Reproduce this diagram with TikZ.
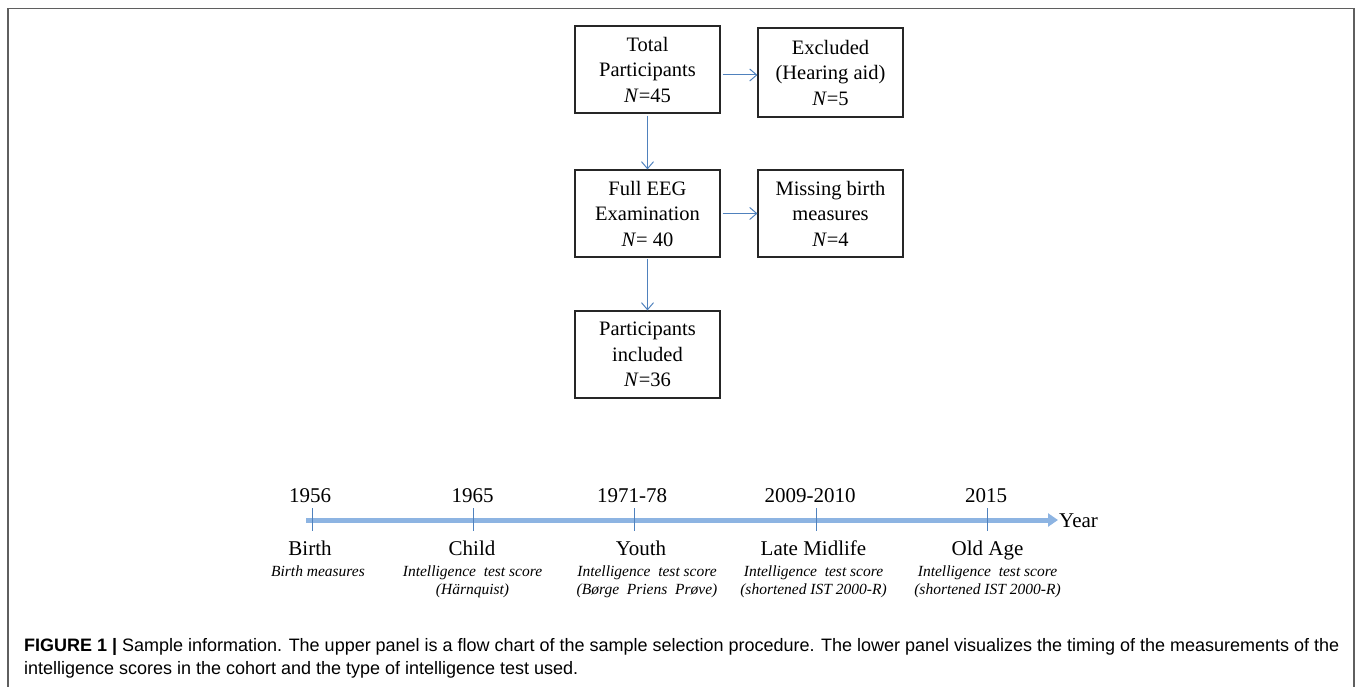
\documentclass[tikz,border=0pt]{standalone}
\usepackage{fontspec}
\setmainfont{Liberation Serif}
\newfontfamily\capfont{Liberation Sans}
\usetikzlibrary{arrows.meta,calc}
\definecolor{flowblue}{RGB}{79,129,189}
\definecolor{barblue}{RGB}{141,180,226}
\definecolor{framegray}{RGB}{95,95,95}
\newsavebox\capA
\newsavebox\capB
\begin{document}
\sbox\capA{\capfont\fontsize{18}{22}\selectfont\textbf{FIGURE 1 |} Sample information. The upper panel is a flow chart of the sample selection procedure. The lower panel visualizes the timing of the measurements of the}%
\sbox\capB{\capfont\fontsize{18}{22}\selectfont intelligence scores in the cohort and the type of intelligence test used.}%
\pgfmathsetmacro\capsc{1315/\wd\capA}%
\begin{tikzpicture}[x=1pt,y=-1pt,
  fbox/.style={draw=black!85, line width=1.1pt, minimum width=145pt, minimum height=87pt,
    align=center, inner sep=0pt, font=\fontsize{20.5}{25.5}\selectfont},
  flow/.style={draw=flowblue, line width=1pt, -{Straight Barb[length=7pt,width=12pt]}},
  tickmark/.style={draw=flowblue, line width=1pt},
  yearlbl/.style={font=\fontsize{21}{25}\selectfont, anchor=base, inner sep=0pt},
  stagelbl/.style={font=\fontsize{21}{25}\selectfont, anchor=base, inner sep=0pt},
  detaillbl/.style={font=\fontsize{15.5}{18.5}\selectfont\itshape, anchor=base, inner sep=0pt},
  caplbl/.style={anchor=base west, inner sep=0pt, text=black!85},
]
\useasboundingbox (0,0) rectangle (1358,687);
\draw[framegray, line width=1.5pt] (8,687) -- (8,8.5) -- (1354,8.5) -- (1354,687);

% flow chart
\node[fbox] (b1) at (647.5,69.5) {Total\\Participants\\\textit{N}=45};
\node[fbox, minimum height=89pt] (b2) at (830.5,72.5) {Excluded\\(Hearing aid)\\\textit{N}=5};
\node[fbox] (b3) at (647.5,213.5) {Full EEG\\Examination\\\textit{N}= 40};
\node[fbox] (b4) at (830.5,213.5) {Missing birth\\measures\\\textit{N}=4};
\node[fbox] (b5) at (647.5,354.5) {Participants\\included\\\textit{N}=36};

\draw[flow] ([xshift=2pt,yshift=-5.5pt]b1.east) -- ([yshift=-5.5pt]b1.east -| b2.west);
\draw[flow] ([xshift=2pt]b3.east) -- (b4.west);
\draw[flow] ([yshift=-2pt]b1.south) -- (b3.north);
\draw[flow] ([yshift=-1pt]b3.south) -- (b5.north);

% timeline
\coordinate (t0) at (306,520);
\coordinate (t1) at (1058,520);
\draw[barblue, line width=5pt, -{Triangle[length=10pt,width=13pt]}] (t0) -- (t1);
\node[anchor=west, font=\fontsize{21}{25}\selectfont, inner sep=0pt] (yr) at (1059,521) {Year};

\foreach \n/\x in {a/312,b/473,c/634,d/816,e/987}{
  \coordinate (tt\n) at (\x,508);
  \coordinate (tb\n) at (\x,531);
  \draw[tickmark] (tt\n) -- (tb\n);
}

\node[yearlbl] (y1) at (310,502) {1956};
\node[yearlbl] (y2) at (472.5,502) {1965};
\node[yearlbl] (y3) at (632,502) {1971-78};
\node[yearlbl] (y4) at (810,502) {2009-2010};
\node[yearlbl] (y5) at (986,502) {2015};

\node[stagelbl] (s1) at (310,555) {Birth};
\node[stagelbl] (s2) at (472,555) {Child};
\node[stagelbl] (s3) at (641,555) {Youth};
\node[stagelbl] (s4) at (813.5,555) {Late Midlife};
\node[stagelbl] (s5) at (987.5,555) {Old Age};

\node[detaillbl] (d1) at (318,576) {Birth measures};
\node[detaillbl] (d2a) at (472.5,576) {Intelligence\ \ test score};
\node[detaillbl] (d2b) at (472.5,594) {(Härnquist)};
\node[detaillbl] (d3a) at (647,576) {Intelligence\ \ test score};
\node[detaillbl] (d3b) at (647,594) {(Børge\ \ Priens\ \ Prøve)};
\node[detaillbl] (d4a) at (813.5,576) {Intelligence\ \ test score};
\node[detaillbl] (d4b) at (813.5,594) {(shortened IST 2000-R)};
\node[detaillbl] (d5a) at (987.5,576) {Intelligence\ \ test score};
\node[detaillbl] (d5b) at (987.5,594) {(shortened IST 2000-R)};

% caption
\node[caplbl] (c1) at (24,651) {\scalebox{\capsc}[1]{\usebox\capA}};
\node[caplbl] (c2) at (24,674) {\scalebox{\capsc}[1]{\usebox\capB}};
\end{tikzpicture}
\end{document}
